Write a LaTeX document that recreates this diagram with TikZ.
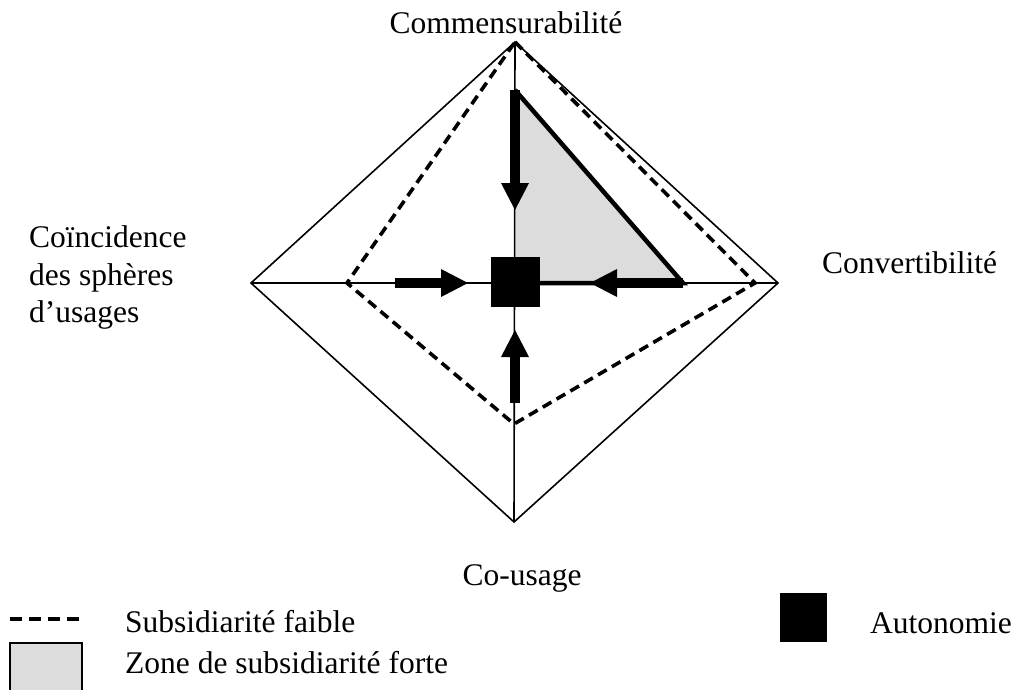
\documentclass[tikz,border=0pt]{standalone}
\usepackage{fontspec}
\setmainfont{Liberation Serif}
\usetikzlibrary{arrows.meta}
\definecolor{zonegray}{RGB}{220,220,220}
\tikzset{
  thinline/.style={line width=1.6pt},
  weakline/.style={line width=3.6pt, dash pattern=on 10pt off 6pt},
  strongedge/.style={line width=4.5pt, line join=miter},
  bigarrow/.style={line width=9.5pt, -{Triangle[length=27pt,width=28pt,line width=0pt]}},
  lbl/.style={inner sep=0pt, anchor=base, font=\fontsize{31.5}{37.5}\selectfont},
}
\begin{document}
\begin{tikzpicture}[x=1pt,y=-1pt]
\useasboundingbox (0,0) rectangle (1019,689);
% vertices
\coordinate (T) at (515,42);
\coordinate (L) at (251,283);
\coordinate (R) at (778,283);
\coordinate (B) at (514,522);
\coordinate (C) at (515,283);
\coordinate (DL) at (347,283);
\coordinate (DR) at (755,283);
\coordinate (DB) at (514,424);
\coordinate (TA) at (515,90);
\coordinate (TB) at (683,283);
% grey zone
\fill[zonegray] (TA) -- (TB) -- (C) -- cycle;
% outer diamond and axes
\draw[thinline, line join=miter] (T) -- (R) -- (B) -- (L) -- cycle;
\draw[thinline] (L) -- (R);
\draw[thinline] (T) -- (B);
% weak subsidiarity
\draw[weakline] (T) -- (DR) -- (DB) -- (DL) -- cycle;
% strong subsidiarity border
\draw[strongedge] (TA) -- (TB) -- (C);
% arrows
\coordinate (a1s) at (515,90);  \coordinate (a1e) at (515,210);
\coordinate (a2s) at (395,283); \coordinate (a2e) at (468,283);
\coordinate (a3s) at (683,283); \coordinate (a3e) at (590,283);
\coordinate (a4s) at (515,403); \coordinate (a4e) at (515,330);
\draw[bigarrow] (a1s) -- (a1e);
\draw[bigarrow] (a2s) -- (a2e);
\draw[bigarrow] (a3s) -- (a3e);
\draw[bigarrow] (a4s) -- (a4e);
% autonomy square
\node[fill=black, minimum width=49pt, minimum height=50pt, inner sep=0pt] (auto) at (515,282) {};
% labels
\node[lbl] (commens) at (506,33) {Commensurabilité};
\node[lbl, anchor=base west] (coinc) at (29,247) {Coïncidence};
\node[lbl, anchor=base west] (coinc2) at (29,285) {des sphères};
\node[lbl, anchor=base west] (coinc3) at (29,322) {d’usages};
\node[lbl, anchor=base west] (conv) at (822,273) {Convertibilité};
\node[lbl] (cousage) at (522,585) {Co-usage};
% legend
\coordinate (ld1) at (10,619); \coordinate (ld2) at (80,619);
\draw[line width=3.6pt, dash pattern=on 12pt off 7pt] (ld1) -- (ld2);
\node[lbl, anchor=base west] (lweak) at (125,632) {Subsidiarité faible};
\draw[line width=1.5pt, fill=zonegray] (10,643) rectangle (82,700);
\node[lbl, anchor=base west] (lstrong) at (125,673) {Zone de subsidiarité forte};
\node[fill=black, minimum width=47pt, minimum height=49pt, inner sep=0pt] (lauto) at (803.5,617.5) {};
\node[lbl, anchor=base west] (lautotxt) at (870,633) {Autonomie};
\end{tikzpicture}
\end{document}
